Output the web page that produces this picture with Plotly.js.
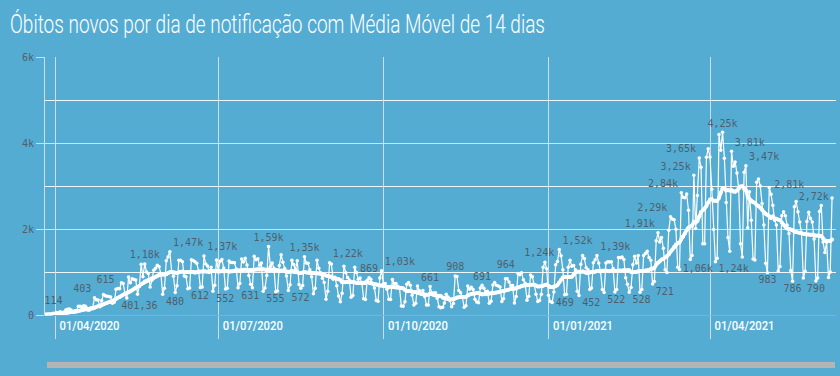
<!DOCTYPE html>
<html>
<head>
<meta charset="utf-8">
<script src="https://cdn.plot.ly/plotly-3.0.1.min.js"></script>
<style>
  html, body { margin: 0; padding: 0; background: #55acd3; }
  #chart { width: 840px; height: 376px; }
</style>
</head>
<body>
<div id="chart"></div>
<script>
// ---- Daily new deaths (by notification date), one array per month ----
const mar20 = [0,0,0,1,3,2,5,7,7,9,12,11,20,15,22,22,23,42]; // from 14/03/2020
const apr20 = [40,58,60,73,54,67,114,133,141,115,68,99,105,204,204,188,217,206,115,113,166,165,403,357,346,189,338,474,449,435];
const may20 = [428,421,275,296,600,615,610,751,730,496,396,881,749,844,824,816,485,674,1179,888,1188,1001,965,653,807,1039,1086,1156,1124,956,480];
const jun20 = [623,1262,1349,1473,1005,904,525,679,1272,1274,1239,909,892,612,627,1282,1269,1238,1206,1022,641,654,1374,1185,1141,990,1109,552,692,1280];
const jul20 = [1038,1252,1290,1091,602,620,1254,1223,1220,1214,1071,631,733,1300,1233,1322,1163,921,716,632,1367,1284,1311,1156,1211,555,627,921,1595,1129,1212];
const aug20 = [1088,541,561,1154,1400,1226,1079,905,572,703,1274,1175,1060,1262,709,620,684,1352,1212,1204,1054,892,494,620,1271,1085,984,855,758,366,553];
const sep20 = [1215,1184,834,879,682,441,310,504,1136,983,874,814,415,455,1113,987,829,858,739,377,363,809,869,831,729,628,335,317,863,1031];
const oct20 = [729,732,599,366,363,823,734,730,669,620,211,201,309,713,754,690,461,230,271,676,566,497,571,432,231,231,661,510,513,516,392];
const nov20 = [190,171,179,278,480,420,338,190,268,908,895,571,520,416,179,216,676,599,644,592,365,302,287,630,691,620,546,551,272,317];
const dec20 = [697,755,694,672,654,313,376,842,841,770,686,686,279,433,964,936,980,818,739,343,437,930,890,709,484,314,340,482,1111,1224,1074];
const jan21 = [462,314,293,533,1171,1242,1524,1379,1054,469,483,1110,1274,1131,1151,1050,551,452,1183,1382,1316,1096,1050,592,627,1214,1283,1386,1207,1001,595];
const feb21 = [522,1209,1239,1232,1239,1081,532,595,1340,1330,1350,1290,867,713,528,639,1166,1367,1212,1386,527,595,1386,1428,1482,1337,1275,721];
const mar21 = [778,1726,1910,1699,1800,1555,1054,987,1972,2286,2233,2216,1997,1111,1057,2841,2736,2724,2815,2438,1290,1383,3251,2009,2777,3650,3438,1656,1656,3668,3869];
const apr21 = [3673,2922,1987,1240,1319,4195,3829,4249,3647,2616,1803,1480,3808,3459,3560,3305,2929,1657,1347,3321,3472,2027,2865,2202,1305,1279,3086,3163,3001,2595];
const may21 = [2091,1202,983,2966,2811,2550,2202,2091,1024,1130,2311,2404,2311,2087,1897,1036,786,2517,2641,2402,2161,1899,860,1020,2173,2391,2245,2160,1770,790,860];
const jun21 = [2408,2548,1700,1454,1689,873,1000,2723]; // up to 08/06/2021

// months: [year, month, first day, values]
const months = [
  [2020,3,14,mar20],[2020,4,1,apr20],[2020,5,1,may20],[2020,6,1,jun20],
  [2020,7,1,jul20],[2020,8,1,aug20],[2020,9,1,sep20],[2020,10,1,oct20],
  [2020,11,1,nov20],[2020,12,1,dec20],[2021,1,1,jan21],[2021,2,1,feb21],
  [2021,3,1,mar21],[2021,4,1,apr21],[2021,5,1,may21],[2021,6,1,jun21]
];

// ---- Point labels shown on the chart ----
const labelDates = ['2020-04-07','2020-04-23','2020-05-06','2020-05-21','2020-05-31','2020-06-04','2020-06-14','2020-06-23','2020-06-28','2020-07-12','2020-07-26','2020-07-29','2020-08-09','2020-08-18','2020-09-01','2020-09-23','2020-09-30','2020-10-27','2020-11-10','2020-11-25','2020-12-15','2021-01-06','2021-01-07','2021-01-10','2021-01-18','2021-01-28','2021-02-01','2021-02-15','2021-02-28','2021-03-03','2021-03-10','2021-03-15','2021-03-16','2021-03-23','2021-03-26','2021-04-04','2021-04-08','2021-04-13','2021-04-21','2021-05-03','2021-05-05','2021-05-17','2021-05-30','2021-06-08'];
const labelTexts = ['114','403','615','1,18k','480','1,47k','612','1,37k','552','631','555','1,59k','572','1,35k','1,22k','869','1,03k','661','908','691','964','1,24k','1,52k','469','452','1,39k','522','528','721','1,91k','2,29k','1,06k','2,84k','3,25k','3,65k','1,24k','4,25k','3,81k','3,47k','983','2,81k','786','790','2,72k'];
const labelPlacement = ['top left','top left','top left','top center','bottom right','top right','bottom right','top right','bottom right','bottom right','bottom right','top center','bottom right','top center','top right','top center','top right','top center','top center','top center','top left','top left','top right','bottom center','bottom right','top right','bottom right','bottom right','bottom right','top left','top left','middle right','top left','top left','top left','bottom right','top center','top right','top right','bottom center','top right','bottom center','bottom center','middle left'];
const maLabelDates = ['2020-05-06'];
const maLabelTexts = ['401,36'];

const yTicks = [0, 2000, 4000, 6000];

// ---- Build series ----
function pad(n){ return (n < 10 ? '0' : '') + n; }
const dates = [];
const daily = [];
months.forEach(function(m){
  m[3].forEach(function(v, i){
    dates.push(m[0] + '-' + pad(m[1]) + '-' + pad(m[2] + i));
    daily.push(v);
  });
});
// 14-day moving average of the daily values
const ma14 = daily.map(function(v, i){
  const s = Math.max(0, i - 13);
  let sum = 0;
  for (let k = s; k <= i; k++) sum += daily[k];
  return sum / (i - s + 1);
});

const dailyText = dates.map(function(){ return ''; });
const dailyPos = dates.map(function(){ return 'top center'; });
labelDates.forEach(function(d, j){
  const idx = dates.indexOf(d);
  if (idx >= 0) { dailyText[idx] = labelTexts[j]; dailyPos[idx] = labelPlacement[j]; }
});
const maText = dates.map(function(){ return ''; });
maLabelDates.forEach(function(d, j){
  const idx = dates.indexOf(d);
  if (idx >= 0) maText[idx] = maLabelTexts[j];
});

const monoFont = "'DejaVu Sans Mono', 'Liberation Mono', monospace";
const titleFont = "Roboto, 'Open Sans', sans-serif";
const lightGrid = 'rgba(214,222,229,0.95)';

const traces = [
  {
    type: 'scatter', mode: 'lines+markers+text',
    x: dates, y: daily,
    text: dailyText, textposition: dailyPos,
    textfont: {family: monoFont, size: 10, color: '#4e5f6c'},
    line: {color: '#ffffff', width: 1.2},
    marker: {color: '#ffffff', size: 3.5},
    cliponaxis: false,
    hoverinfo: 'skip', showlegend: false
  },
  {
    type: 'scatter', mode: 'lines+markers+text',
    x: dates, y: ma14,
    text: maText, textposition: 'bottom right',
    textfont: {family: monoFont, size: 10, color: '#4e5f6c'},
    line: {color: '#ffffff', width: 3.5},
    marker: {color: '#ffffff', size: 4},
    hoverinfo: 'skip', showlegend: false
  }
];

const layout = {
  width: 840, height: 376,
  paper_bgcolor: '#55acd3', plot_bgcolor: '#55acd3',
  margin: {l: 45, r: 4, t: 57, b: 61},
  separators: ',.',
  title: {
    text: 'Óbitos novos por dia de notificação com Média Móvel de 14 dias',
    font: {family: titleFont, size: 25, color: '#ffffff', weight: 300},
    x: 10/840, xref: 'container', xanchor: 'left',
    y: 1 - 24/376, yref: 'container', yanchor: 'middle'
  },
  xaxis: {
    type: 'date',
    range: ['2020-03-26 10:00', '2021-06-10 05:00'],
    tick0: '2020-01-01', dtick: 'M3', tickformat: '%d/%m/%Y',
    showgrid: true, gridcolor: lightGrid, gridwidth: 1,
    ticks: 'outside', ticklen: 23, tickcolor: lightGrid, tickwidth: 1,
    ticklabelposition: 'outside right', ticklabelstandoff: -1, ticklabelshift: 4,
    tickfont: {family: titleFont, size: 12.5, color: '#ffffff', weight: 500},
    zeroline: false, showline: false, fixedrange: true
  },
  yaxis: {
    range: [0, 6000],
    tickvals: yTicks, tickformat: '~s',
    showgrid: true, gridcolor: lightGrid, gridwidth: 1,
    ticks: 'outside', ticklen: 8, tickcolor: lightGrid,
    showline: true, linecolor: lightGrid, linewidth: 1,
    zeroline: true, zerolinecolor: '#9ea7af', zerolinewidth: 1,
    minor: {dtick: 1000, showgrid: true, gridcolor: 'rgba(255,255,255,0.9)', gridwidth: 1},
    tickfont: {family: monoFont, size: 10, color: '#4e5f6c'},
    fixedrange: true
  },
  shapes: [
    {type: 'rect', xref: 'paper', yref: 'paper',
     x0: 2/791, x1: 790/791, y0: -0.2054, y1: -0.182,
     fillcolor: '#b4b4b4', line: {width: 0}}
  ],
  hovermode: false
};

Plotly.newPlot('chart', traces, layout, {displayModeBar: false, staticPlot: true}).then(function(gd){
  // condensed look of the reference's title and date labels
  const t = gd.querySelector('.gtitle');
  if (t) { t.setAttribute('textLength', '535'); t.setAttribute('lengthAdjust', 'spacingAndGlyphs'); }
  gd.querySelectorAll('.xtick text').forEach(function(el){
    el.setAttribute('textLength', '60'); el.setAttribute('lengthAdjust', 'spacingAndGlyphs');
  });
});
</script>
</body>
</html>
